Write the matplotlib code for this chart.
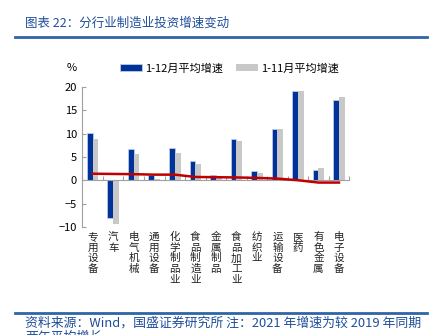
#!/usr/bin/env python

import matplotlib
matplotlib.use("Agg")
import matplotlib.pyplot as plt
from matplotlib.lines import Line2D
from matplotlib.patches import Patch
import numpy as np

plt.rcParams["font.family"] = ["Noto Sans CJK SC", "DejaVu Sans"]

industries = ["专用设备", "汽车", "电气机械", "通用设备", "化学制品业", "食品制造业",
              "金属制品", "食品加工业", "纺织业", "运输设备", "医药", "有色金属", "电子设备"]
growth_dec = [10.2, -8.1, 6.7, 1.1, 6.9, 4.1, 1.1, 8.8, 1.9, 11.1, 19.2, 2.1, 17.3]
growth_nov = [8.8, -9.3, 5.6, 0.3, 5.9, 3.5, 0.6, 8.4, 1.5, 10.9, 19.2, 2.6, 17.9]
trend = [1.4, 1.35, 1.3, 1.2, 1.2, 0.7, 0.65, 0.6, 0.5, 0.35, 0.0, -0.5, -0.5]

BLUE = "#003399"
GRAY = "#C8C8C8"
RED = "#C00000"
TXT = "#1F4E9A"

fig = plt.figure(figsize=(4.36, 3.35), dpi=100)

# header / footer
fig.text(0.057, 0.932, "图表 22：分行业制造业投资增速变动", fontsize=9, color=TXT,
         ha="left", va="center")
fig.add_artist(Line2D([0.035, 0.98], [0.889, 0.889], color="#2F64A8", lw=2))
fig.add_artist(Line2D([0.035, 0.98], [0.066, 0.066], color="#2F64A8", lw=2))
fig.text(0.057, 0.036, "资料来源：Wind，国盛证券研究所 注：2021 年增速为较 2019 年同期",
         fontsize=9.3, color=TXT, ha="left", va="center")
fig.text(0.057, -0.008, "两年平均增长", fontsize=9.3, color=TXT, ha="left", va="center")

ax = fig.add_axes([0.189, 0.323, 0.612, 0.417])
x = np.arange(len(industries))
w = 0.28
ax.bar(x - 0.14, growth_dec, w, color=BLUE, edgecolor="#C9D3EA", linewidth=0.5, zorder=2)
ax.bar(x + 0.14, growth_nov, w, color=GRAY, linewidth=0, zorder=2)
ax.plot(x, trend, color=RED, lw=1.8, zorder=3)

ax.set_xlim(-0.5, len(industries) - 0.5)
ax.set_ylim(-10, 20)
ax.set_yticks(range(-10, 21, 5))
ax.tick_params(axis="y", direction="in", length=3, color="#A0A0A0", labelsize=8, pad=4)

ax.spines[["top", "right"]].set_visible(False)
ax.spines["left"].set_color("#A0A0A0")
ax.spines["bottom"].set_position(("data", 0))
ax.spines["bottom"].set_color("#A0A0A0")
ax.set_xticks(np.arange(-0.5, len(industries), 1.0))
ax.set_xticklabels([])
ax.tick_params(axis="x", direction="in", length=3, color="#A0A0A0")

# vertical category names
for i, name in enumerate(industries):
    ax.text(i, -11.1, "\n".join(name), ha="center", va="top", fontsize=7.6,
            linespacing=1.08, color="#222222", transform=ax.transData, clip_on=False)

ax.text(-0.042, 1.135, "%", transform=ax.transAxes, fontsize=8, ha="center", va="center")

handles = [Patch(facecolor=BLUE, edgecolor="#C9D3EA", linewidth=0.5),
           Patch(facecolor=GRAY, linewidth=0)]
ax.legend(handles, ["1-12月平均增速", "1-11月平均增速"], loc="center left",
          bbox_to_anchor=(0.14, 1.135), ncol=2, frameon=False, fontsize=8,
          handlelength=2.0, handleheight=0.6, columnspacing=1.1, handletextpad=0.3,
          borderaxespad=0, borderpad=0)

fig.savefig("out.png", dpi=100)
